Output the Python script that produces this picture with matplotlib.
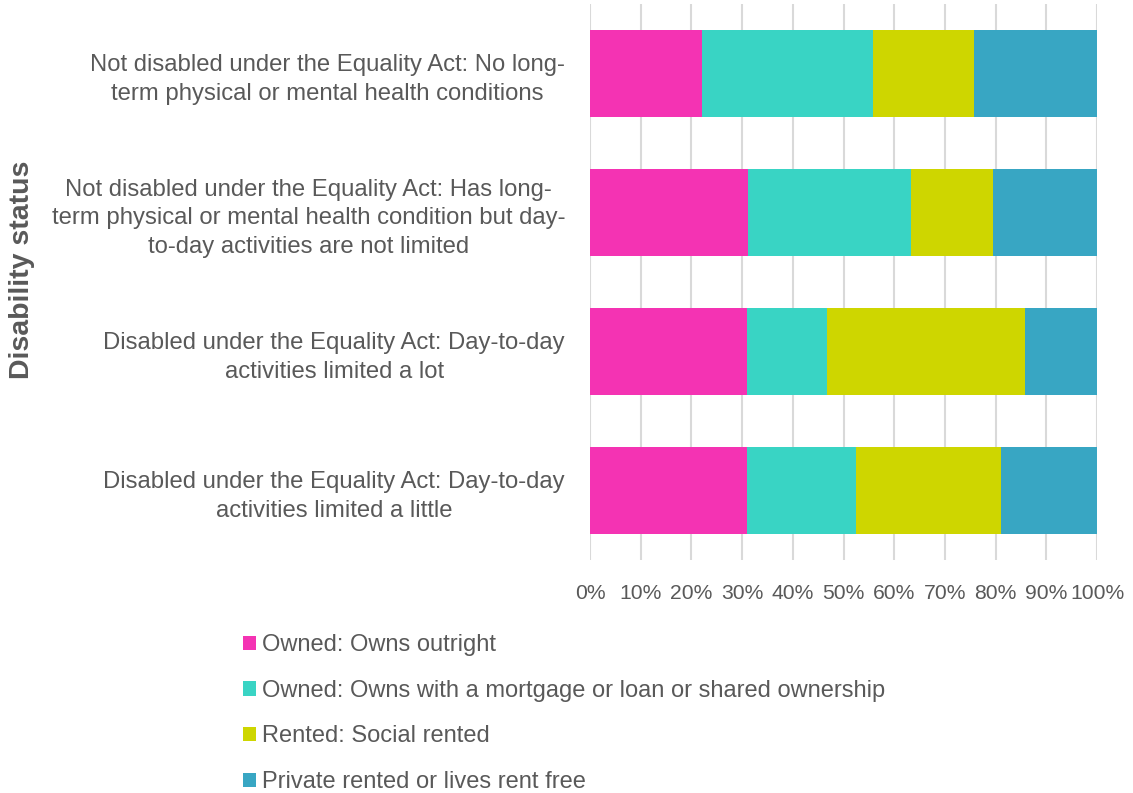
import matplotlib
matplotlib.use("Agg")
import matplotlib.pyplot as plt
from matplotlib.patches import Patch
import numpy as np

plt.rcParams['font.family'] = ['Liberation Sans', 'DejaVu Sans']

categories = [
    "Not disabled under the Equality Act: No long-\nterm physical or mental health conditions",
    "Not disabled under the Equality Act: Has long-\nterm physical or mental health condition but day-\nto-day activities are not limited",
    "Disabled under the Equality Act: Day-to-day\nactivities limited a lot",
    "Disabled under the Equality Act: Day-to-day\nactivities limited a little",
]
series_names = [
    "Owned: Owns outright",
    "Owned: Owns with a mortgage or loan or shared ownership",
    "Rented: Social rented",
    "Private rented or lives rent free",
]
owned_outright = [22.0, 31.1, 30.9, 30.9]
owned_mortgage = [33.9, 32.3, 15.8, 21.6]
social_rented = [19.8, 16.1, 39.1, 28.6]
private_rented = [24.3, 20.5, 14.2, 18.9]
series = [owned_outright, owned_mortgage, social_rented, private_rented]
colors = ["#F433B3", "#39D4C4", "#CED600", "#38A6C3"]
xticks = [0, 10, 20, 30, 40, 50, 60, 70, 80, 90, 100]
xtick_labels = [f"{t}%" for t in xticks]

W, H = 1133, 793
fig = plt.figure(figsize=(W / 100, H / 100), dpi=100)
ax = fig.add_axes([590 / W, 1 - 560 / H, (1097 - 590) / W, (560 - 4) / H])

y = np.arange(len(categories))
left = np.zeros(len(categories))
for vals, name, c in zip(series, series_names, colors):
    ax.barh(y, vals, left=left, height=0.626, color=c, label=name, zorder=3)
    left += np.array(vals)

ax.set_xlim(0, 100)
ax.set_ylim(len(categories) - 0.5, -0.5)
ax.set_xticks(xticks)
ax.set_xticklabels(xtick_labels)
ax.set_yticks(y)
ax.set_yticklabels(categories, linespacing=1.4)
ax.tick_params(axis='x', length=0, labelsize=15.2, colors="#595959", pad=17)
ax.tick_params(axis='y', length=0, labelsize=17.2, colors="#595959", pad=18)
for lbl in ax.get_yticklabels():
    lbl.set_horizontalalignment('right')
    lbl.set_multialignment('center')
ax.grid(axis='x', color="#D9D9D9", linewidth=1.5, zorder=0)
for s in ax.spines.values():
    s.set_visible(False)

fig.text(22 / W, 1 - 270 / H, "Disability status", rotation=90, fontsize=20.5,
         fontweight='bold', color="#595959", ha='center', va='center')

handles = [Patch(facecolor=c, edgecolor='none') for c in colors]
fig.legend(handles, series_names, loc='upper left',
           bbox_to_anchor=(222 / W, 1 - 613 / H), frameon=False,
           fontsize=17, labelcolor="#595959", handlelength=0.55,
           handleheight=0.55, handletextpad=0.25, labelspacing=1.0)

fig.savefig("out.png", dpi=100)
